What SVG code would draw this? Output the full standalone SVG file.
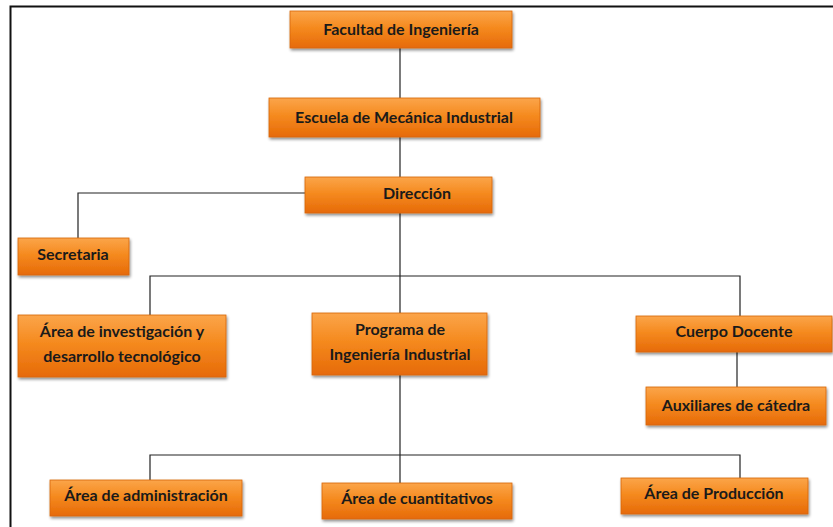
<svg xmlns="http://www.w3.org/2000/svg" width="833" height="527" viewBox="0 0 833 527">
<defs>
<linearGradient id="og" x1="0" y1="0" x2="0" y2="1">
<stop offset="0" stop-color="#FBA54A"/>
<stop offset="0.45" stop-color="#F58A1F"/>
<stop offset="1" stop-color="#E66A08"/>
</linearGradient>
<filter id="sh" x="-10%" y="-20%" width="120%" height="150%">
<feGaussianBlur in="SourceAlpha" stdDeviation="1.5"/>
<feOffset dx="1" dy="2" result="b"/>
<feComponentTransfer><feFuncA type="linear" slope="0.45"/></feComponentTransfer>
<feMerge><feMergeNode/><feMergeNode in="SourceGraphic"/></feMerge>
</filter>
</defs>
<style>
.box{fill:url(#og);stroke:#D8650A;stroke-width:0.8;filter:url(#sh)}
.t{font-family:Lato,"Open Sans","Liberation Sans",sans-serif;font-size:16px;font-weight:bold;fill:#1a1a1a;text-anchor:middle}
.c{stroke:#222;stroke-width:1.2;fill:none}
.frame{stroke:#111;stroke-width:2;fill:none}
</style>
<rect width="833" height="527" fill="#fff"/>
<path class="frame" d="M10.5,527 V6.5 H833"/>
<g id="connectors">
<path class="c" d="M400,48 V98"/>
<path class="c" d="M400,137 V177"/>
<path class="c" d="M400,213 V313"/>
<path class="c" d="M305,193 H78 V238"/>
<path class="c" d="M150,315 V276 H740 V316"/>
<path class="c" d="M737,352 V387"/>
<path class="c" d="M400,375 V483"/>
<path class="c" d="M150,480 V455 H740 V478"/>
</g>
<g id="n-facultad"><rect class="box" x="290" y="11" width="222" height="37"/><text class="t" x="401" y="35">Facultad de Ingeniería</text></g>
<g id="n-escuela"><rect class="box" x="269" y="98" width="271" height="39"/><text class="t" x="404" y="123">Escuela de Mecánica Industrial</text></g>
<g id="n-direccion"><rect class="box" x="305" y="177" width="187" height="36"/><text class="t" x="417" y="199">Dirección</text></g>
<g id="n-secretaria"><rect class="box" x="18" y="238" width="111" height="37"/><text class="t" x="73" y="260">Secretaria</text></g>
<g id="n-investigacion"><rect class="box" x="18" y="315" width="208" height="62"/><text class="t" x="122" y="337">Área de investigación y</text><text class="t" x="122" y="362">desarrollo tecnológico</text></g>
<g id="n-programa"><rect class="box" x="312" y="313" width="175" height="62"/><text class="t" x="400" y="335">Programa de</text><text class="t" x="400" y="360">Ingeniería Industrial</text></g>
<g id="n-cuerpo"><rect class="box" x="636" y="316" width="196" height="36"/><text class="t" x="734" y="337">Cuerpo Docente</text></g>
<g id="n-auxiliares"><rect class="box" x="646" y="387" width="180" height="38"/><text class="t" x="736" y="411">Auxiliares de cátedra</text></g>
<g id="n-admin"><rect class="box" x="50" y="480" width="192" height="36"/><text class="t" x="146" y="501">Área de administración</text></g>
<g id="n-cuant"><rect class="box" x="322" y="483" width="190" height="36"/><text class="t" x="417" y="504">Área de cuantitativos</text></g>
<g id="n-produccion"><rect class="box" x="621" y="478" width="187" height="36"/><text class="t" x="714" y="499">Área de Producción</text></g>
</svg>
